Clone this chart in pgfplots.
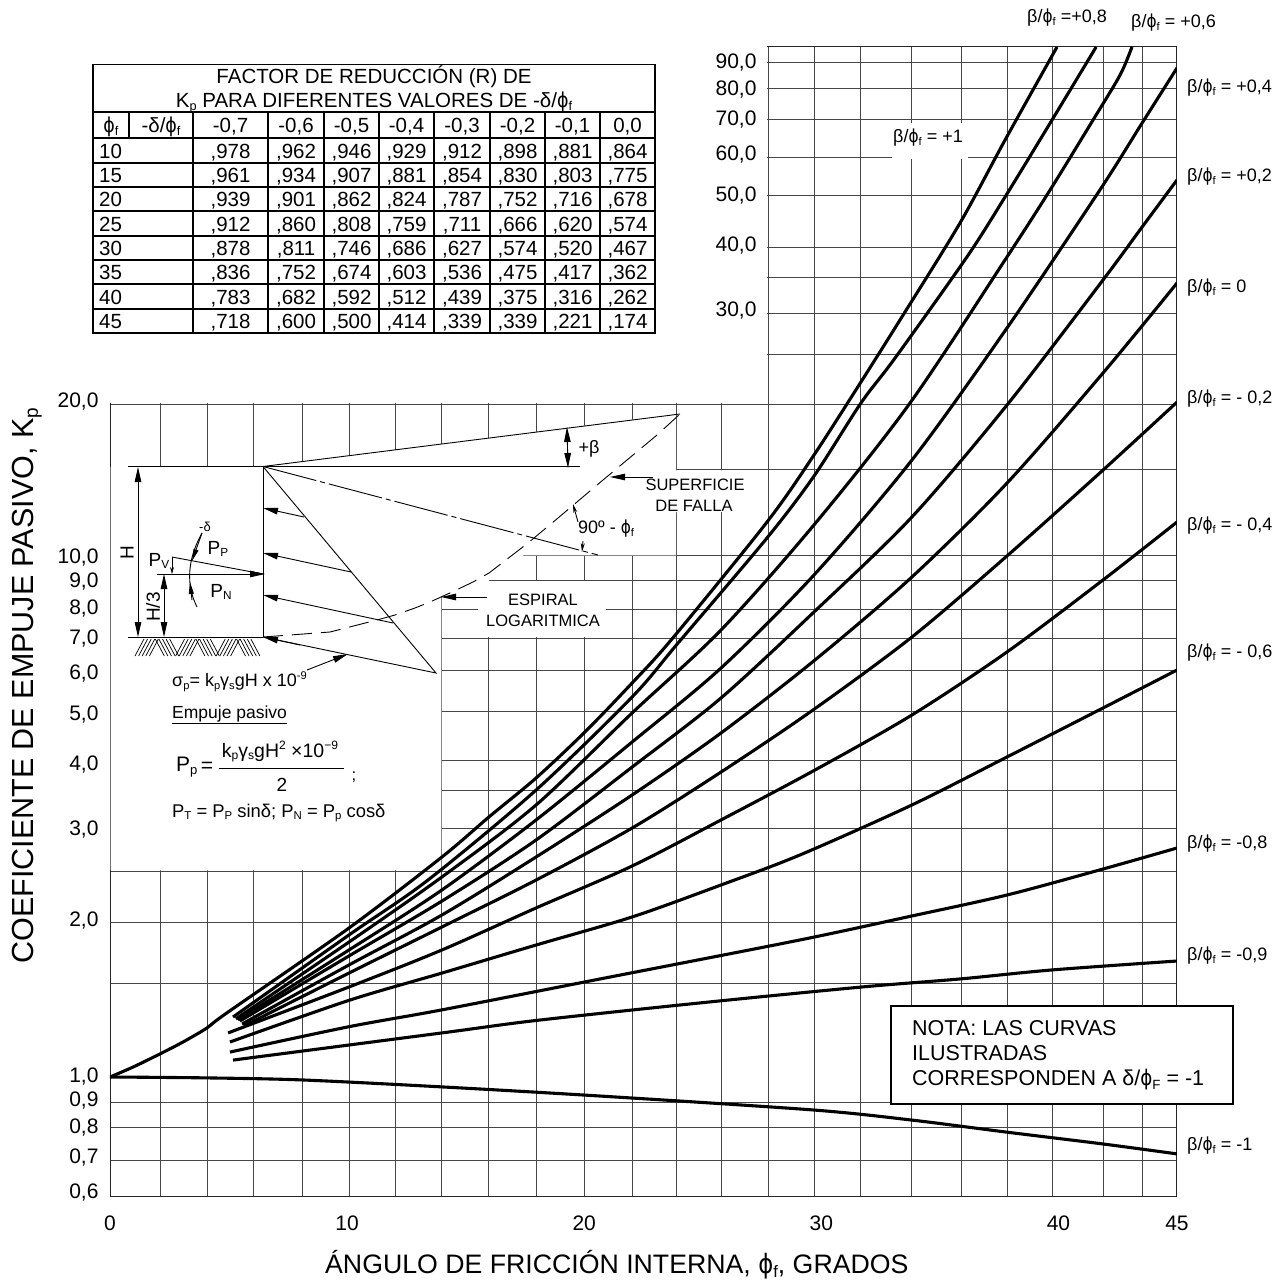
\documentclass[border=0pt]{standalone}
\usepackage{fontspec}
\usepackage{pgfplots}
\pgfplotsset{compat=1.18}
\usetikzlibrary{arrows.meta}
\setmainfont{Liberation Sans}
\newfontfamily\phifont{DejaVu Sans}
\newcommand\sz[1]{\fontsize{#1}{#1}\selectfont}
\newcommand\sub[1]{\raisebox{-.28ex}{\scalebox{.62}{#1}}}
\newcommand\spw[1]{\raisebox{.75ex}{\scalebox{.62}{#1}}}
\newcommand\ph{{\phifont\scalebox{.85}[1]{ϕ}}}
\newcommand\pf{\ph\sub{f}}
\newcommand\bp{β/\pf}
\newcommand\tc[2]{\node[anchor=base] at (#1,\rowy){#2};}
\newcommand\tr[9]{%
 \def\rowy{#1}%
 \node[anchor=base west] at (99,\rowy){#2};
 \tc{230.5}{#3}\tc{296}{#4}\tc{351.5}{#5}\tc{406.5}{#6}\tc{462}{#7}\tc{517.5}{#8}\tc{572.5}{#9}}
\tikzset{ah/.style={-{Triangle[length=15pt,width=6.5pt]}},
         ah2/.style={{Triangle[length=15pt,width=6.5pt]}-{Triangle[length=15pt,width=6.5pt]}},
         cv/.style={black,line width=3.1pt,line join=round,line cap=butt,mark=none,smooth,tension=0.5}}
\begin{document}
\begin{tikzpicture}
\path[use as bounding box] (0pt,0pt) rectangle (1281pt,-1285pt);
% ---------- grid ----------
\begin{axis}[at={(110pt,-1196pt)},anchor=south west,scale only axis,width=1067pt,height=1149pt,
 xmin=0,xmax=45,ymode=log,ymin=0.5898,ymax=96.51,
 xtick={2.11,4.09,6.03,8.10,10.08,12.06,14.00,15.98,17.97,20.03,22.02,23.91,25.77,27.75,29.69,31.67,33.82,35.89,37.83,39.73,41.88,43.53},
 ytick={90.29,80.46,70.12,59.24,49.84,39.57,34.79,29.65,24.72,19.80,14.84,10.09,9.07,7.975,7.012,6.084,5.072,4.081,3.572,3.018,2.494,1.989,1.511,0.895,0.801,0.692},
 minor ytick={},xticklabels={},yticklabels={},major tick length=0pt,
 grid=major,major grid style={black!72,line width=0.95pt},
 axis line style={black!85,line width=1pt}]
\end{axis}
% ---------- masks ----------
\begin{scope}[x=1pt,y=-1pt]
\fill[white] (-1,-1) rectangle (766.6,403.4);
\fill[white] (110.7,467) -- (263,467) -- (676,414) -- (676,470.4) -- (725,470.4) -- (725,512) -- (676,512) -- (676,555.3) -- (523,555.3) -- (523,579.3) -- (489,579.3) -- (489,596) -- (441.3,596) -- (441.3,870.4) -- (110.7,870.4) -- cycle;
\fill[white] (478,581) rectangle (606,637.3);
\fill[white] (892,123) rectangle (968,159);
% ---------- table ----------
\begin{scope}[every node/.style={inner sep=0pt,font=\sz{20.5}}]
\draw[line width=1.5pt] (93,64.5) rectangle (655,333);
\foreach \yy in {112,138,163,187,211,236,260,284,309}{\draw[line width=1.1pt] (93,\yy)--(655,\yy);}
\foreach \xx in {193,268,324,379,434,490,545,600}{\draw[line width=1.1pt] (\xx,112)--(\xx,333);}
\draw[line width=1.1pt] (129,112)--(129,138);
\node at (374,77){FACTOR DE REDUCCIÓN (R) DE};
\node[anchor=base] at (374,107){K\sub{p} PARA DIFERENTES VALORES DE -δ/\pf};
\def\rowy{132.5}
\node[anchor=base] at (111,\rowy){\pf}; \tc{161}{-δ/\pf}
\tc{230.5}{-0,7}\tc{296}{-0,6}\tc{351.5}{-0,5}\tc{406.5}{-0,4}\tc{462}{-0,3}\tc{517.5}{-0,2}\tc{572.5}{-0,1}\tc{627.5}{0,0}
\tr{158}{10}{,978}{,962}{,946}{,929}{,912}{,898}{,881} \tc{627.5}{,864}
\tr{182.5}{15}{,961}{,934}{,907}{,881}{,854}{,830}{,803} \tc{627.5}{,775}
\tr{206.5}{20}{,939}{,901}{,862}{,824}{,787}{,752}{,716} \tc{627.5}{,678}
\tr{231}{25}{,912}{,860}{,808}{,759}{,711}{,666}{,620} \tc{627.5}{,574}
\tr{255.5}{30}{,878}{,811}{,746}{,686}{,627}{,574}{,520} \tc{627.5}{,467}
\tr{279.5}{35}{,836}{,752}{,674}{,603}{,536}{,475}{,417} \tc{627.5}{,362}
\tr{304}{40}{,783}{,682}{,592}{,512}{,439}{,375}{,316} \tc{627.5}{,262}
\tr{328.5}{45}{,718}{,600}{,500}{,414}{,339}{,339}{,221} \tc{627.5}{,174}
\end{scope}
% ---------- wall diagram ----------
\draw[line width=0.9pt] (128,466.5)--(580,466.5);
\draw[line width=0.9pt] (263,466.5)--(263,637);
\draw[line width=0.9pt] (128,637)--(263,637);
\draw[line width=0.9pt] (263,466.5)--(680,414);
\draw[line width=0.9pt,dash pattern=on 55pt off 4pt on 5pt off 4pt] (263,466.5)--(598,555);
\draw[line width=0.9pt] (263,466.5)--(436,673)--(263,637);
\draw[line width=0.9pt,ah] (304,517)--(263,508);
\draw[line width=0.9pt,ah] (351,572)--(263,553);
\draw[line width=0.9pt,ah] (393,623)--(263,595);
\draw[line width=0.9pt,ah] (300,645)--(263,637);
\draw[line width=0.9pt,ah2] (138,467)--(138,637);
\draw[line width=0.9pt,ah2] (164,574)--(164,637);
\draw[line width=0.9pt,ah] (157,574)--(265,574);
\draw[line width=0.9pt] (172,557)--(263,574);
\draw[line width=0.9pt,-{Stealth[length=7pt,width=4pt]}] (172,557)--(172,574);
\draw[line width=0.9pt] (202,533) .. controls (187,560) and (186,585) .. (197,607);
\draw[line width=0.9pt,-{Triangle[length=12pt,width=5pt]}] (202,533)--(192,561);
\draw[line width=0.9pt,-{Triangle[length=12pt,width=5pt]}] (192,600)--(190,582);
\draw[line width=0.9pt,dash pattern=on 20pt off 9pt] (263,637)
 -- (290,635) -- (330,632) -- (377,620) -- (395,615) -- (415,608) -- (430,602) -- (452,592) -- (473,582) -- (489,573) -- (502,563) -- (528,543) -- (558,518) -- (603,480) -- (657,435) -- (680,414);
\foreach \k in {0,...,5}{\foreach \j in {0,...,4}{
 \pgfmathsetmacro\xa{135+\k*20.3+\j*3.6}
 \ifodd\k \draw[line width=0.7pt] (\xa,639)--++(9,17); \else \draw[line width=0.7pt] (\xa+9,639)--++(-9,17); \fi}}
\draw[line width=0.9pt,ah] (307,670)--(348,654);
\draw[line width=0.9pt,ah] (653,477)--(610,477);
\draw[line width=0.9pt,ah] (487,597)--(441,597);
\draw[line width=0.9pt,ah2] (567,427)--(568,468);
\draw[line width=0.9pt,-{Stealth[length=9pt,width=4pt]}] (578,522)--(573,504);
\draw[line width=0.9pt,-{Stealth[length=9pt,width=4pt]}] (583,541)--(582,552);
\begin{scope}[every node/.style={inner sep=0pt,font=\sz{16.5}}]
\node[font=\sz{19}] at (127,553){\rotatebox{90}{H}};
\node[font=\sz{19}] at (153,607){\rotatebox{90}{H/3}};
\node[font=\sz{13}] at (205,527){-δ};
\node[font=\sz{19}] at (218,549){P\sub{P}};
\node[font=\sz{19}] at (159,561){P\sub{V}};
\node[font=\sz{19}] at (221,592){P\sub{N}};
\node at (695,485){SUPERFICIE};
\node at (694,506){DE FALLA};
\node at (543,600){ESPIRAL};
\node at (543,621){LOGARITMICA};
\node[font=\sz{18}] at (589,449){+β};
\node[font=\sz{18},anchor=west] at (578,529){90º - \pf};
\node[font=\sz{18},anchor=west] at (172,682){σ\sub{p}= k\sub{p}γ\sub{s}gH x 10\spw{-9}};
\node[font=\sz{17.5},anchor=west] at (172,715){\underline{Empuje pasivo}};
\node[font=\sz{21},anchor=west] at (176,767){P\sub{p}};
\node[font=\sz{21}] at (207,767){=};
\draw[line width=0.8pt] (219,768)--(344,768);
\node[font=\sz{19.5},anchor=base] at (280,757){k\sub{p}γ\sub{s}gH\spw{2} ×10\spw{−9}};
\node[font=\sz{19}] at (282,785){2};
\node at (354,777){;};
\node[font=\sz{18.4},anchor=west] at (172,813){P\sub{T} = P\sub{P} sinδ; P\sub{N} = P\sub{p} cosδ};
% labels of the curves
\begin{scope}[every node/.style={inner sep=0pt,font=\sz{18},anchor=west}]
\node at (1027,18){\bp{} =+0,8};
\node at (1131,23){\bp{} = +0,6};
\node at (893,138){\bp{} = +1};
\node at (1187,88){\bp{} = +0,4};
\node at (1187,177){\bp{} = +0,2};
\node at (1187,288){\bp{} = 0};
\node at (1187,399){\bp{} = - 0,2};
\node at (1187,526){\bp{} = - 0,4};
\node at (1187,653){\bp{} = - 0,6};
\node at (1187,844){\bp{} = -0,8};
\node at (1187,956){\bp{} = -0,9};
\node at (1187,1146){\bp{} = -1};
\end{scope}
\end{scope}
\draw[line width=1.6pt,fill=white] (891,1006) rectangle (1233,1104);
\begin{scope}[every node/.style={inner sep=0pt,font=\sz{21.5},anchor=west}]
\node at (912,1028){NOTA: LAS CURVAS};
\node at (912,1053){ILUSTRADAS};
\node at (912,1080){CORRESPONDEN A δ/\ph\sub{F} = -1};
\end{scope}
\end{scope}
% ---------- curves ----------
\begin{axis}[at={(110pt,-1196pt)},anchor=south west,scale only axis,width=1067pt,height=1149pt,
 xmin=0,xmax=45,ymode=log,ymin=0.5898,ymax=96.51,
 axis line style={draw=none},tick style={draw=none},major tick length=0pt,
 xtick={0,10,20,30,40,45},xticklabels={0,10,20,30,40,45},
 ytick={0.6,0.7,0.8,0.9,1,2,3,4,5,6,7,8,9,10,20},minor ytick={},
 yticklabels={{0,6},{0,7},{0,8},{0,9},{1,0},{2,0},{3,0},{4,0},{5,0},{6,0},{7,0},{8,0},{9,0},{10,0},{20,0}},
 tick label style={font=\sz{21}},
 yticklabel style={xshift=-8pt},xticklabel style={yshift=-16pt},
 xlabel={ÁNGULO DE FRICCIÓN INTERNA, \ph\sub{f}, GRADOS},
 ylabel={COEFICIENTE DE EMPUJE PASIVO, K\sub{p}},
 every axis x label/.style={at={(axis description cs:0.475,-0.0602)},anchor=center,font=\sz{26.7}},
 every axis y label/.style={at={(axis description cs:-0.0778,0.444)},anchor=center,rotate=90,font=\sz{30.5}}]
\addplot[cv] coordinates {(0,1)(4.09,.996)(8.10,.987)(14.00,.957)(20.67,.919)(29.65,.864)(33.82,.826)(37.83,.783)(41.88,.743)(45,.711)};
\addplot[cv] coordinates {(5.19,1.078)(14.00,1.216)(17.97,1.285)(24.88,1.389)(31.72,1.491)(35.85,1.545)(39.73,1.608)(45,1.673)};
\addplot[cv] coordinates {(5.06,1.117)(10.08,1.250)(14.00,1.347)(20.67,1.545)(29.10,1.837)(33.82,2.043)(37.83,2.242)(41.88,2.516)(45,2.762)};
\addplot[cv] coordinates {(5.06,1.168)(10.08,1.405)(14.00,1.586)(17.97,1.796)(22.02,2.034)(25.77,2.344)(29.10,2.678)(33.82,3.343)(37.83,4.136)(41.88,5.140)(45,6.084)};
\addplot[cv] coordinates {(4.98,1.216)(10.08,1.491)(14.00,1.757)(17.97,2.117)(22.02,2.550)(25.77,3.128)(29.73,3.904)(33.82,4.983)(37.83,6.590)(41.88,9.07)(45,11.73)};
\addplot[cv] coordinates {(5.65,1.254)(10.08,1.586)(14.00,1.946)(17.97,2.396)(22.02,3.018)(25.77,3.869)(29.65,5.095)(33.82,7.043)(37.83,10.09)(41.88,14.77)(45,19.97)};
\addplot[cv] coordinates {(5.57,1.265)(10.08,1.644)(14.00,2.052)(17.97,2.654)(22.02,3.494)(25.77,4.601)(29.73,6.360)(33.82,9.191)(37.83,13.94)(41.88,22.72)(45,33.87)};
\addplot[cv] coordinates {(5.48,1.282)(10.08,1.711)(14.00,2.183)(17.97,2.862)(22.02,3.956)(25.77,5.374)(29.69,7.870)(33.82,11.995)(37.83,19.71)(41.88,34.33)(43.53,43.43)(45,53.49)};
\addplot[cv] coordinates {(5.40,1.288)(10.08,1.757)(14.00,2.293)(17.97,3.128)(22.02,4.420)(25.77,6.138)(29.69,9.273)(33.82,15.44)(37.83,27.74)(41.75,51.19)(43.53,68.89)(45,87.92)};
\addplot[cv] coordinates {(5.31,1.294)(10.08,1.820)(14.00,2.429)(17.97,3.343)(22.02,5.028)(25.77,7.266)(29.69,11.58)(33.74,19.89)(37.83,38.02)(39.65,51.19)(41.46,69.82)(42.60,85.23)(43.10,96.51)};
\addplot[cv] coordinates {(5.19,1.305)(10.08,1.878)(13.41,2.396)(17.97,3.572)(22.02,5.398)(23.96,6.859)(27.71,10.93)(29.69,14.38)(31.67,19.89)(33.11,24.28)(36.14,38.02)(37.75,49.62)(39.73,69.82)(41.59,96.51)};
\addplot[cv] coordinates {(0,1)(0.97,1.045)(2.11,1.108)(3.08,1.168)(4.09,1.243)(4.93,1.329)(10.08,1.937)(14.00,2.654)(15.98,3.169)(17.97,3.768)(20.03,4.621)(22.02,5.743)(23.70,6.981)(27.71,11.73)(29.69,15.79)(31.67,21.83)(33.45,29.39)(35.85,44.21)(37.75,63.89)(39.94,96.51)};
\end{axis}
% ---------- upper scale labels ----------
\begin{axis}[at={(768pt,-1196pt)},anchor=south west,scale only axis,width=409pt,height=1149pt,
 xmin=0,xmax=1,ymode=log,ymin=0.5898,ymax=96.51,
 axis line style={draw=none},tick style={draw=none},major tick length=0pt,
 xtick=\empty,ytick={30,40,50,60,70,80,90},minor ytick={},
 yticklabels={{30,0},{40,0},{50,0},{60,0},{70,0},{80,0},{90,0}},
 tick label style={font=\sz{21}},yticklabel style={xshift=-8pt}]
\end{axis}
\end{tikzpicture}
\end{document}
